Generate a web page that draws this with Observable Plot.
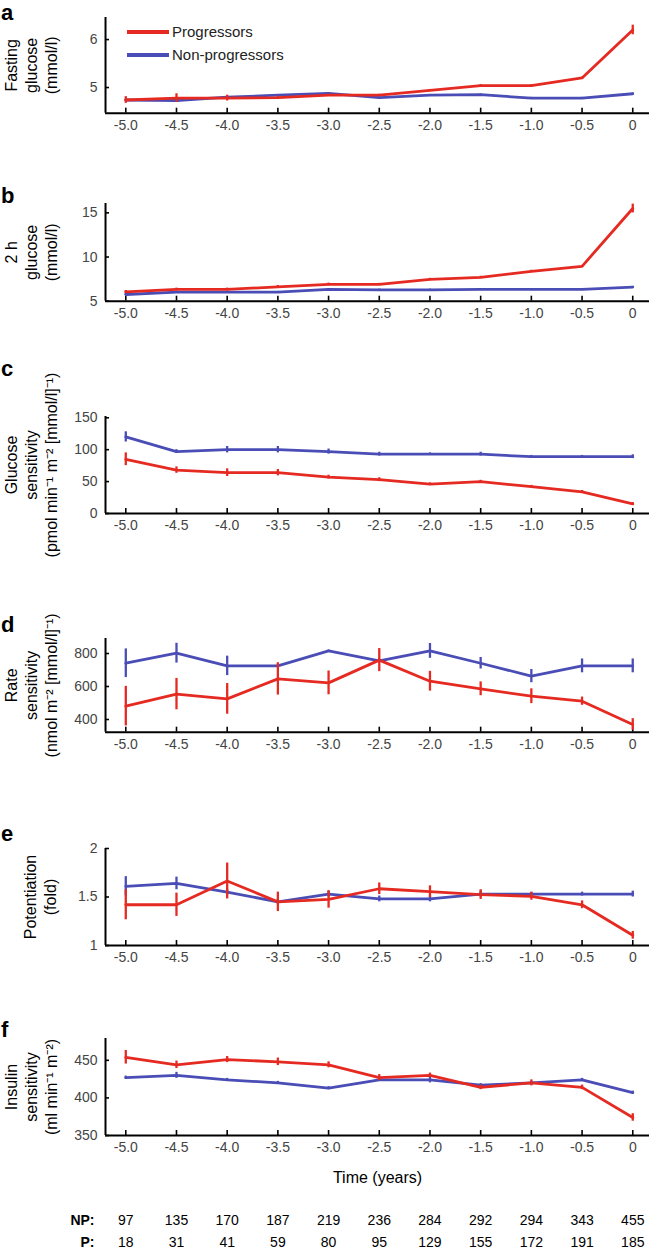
<!DOCTYPE html>
<html>
<head>
<meta charset="utf-8">
<script src="https://cdn.jsdelivr.net/npm/d3@7"></script>
<script src="https://cdn.jsdelivr.net/npm/@observablehq/plot@0.6"></script>
<style>
  html, body { margin: 0; padding: 0; background: #fff; }
  #wrap { position: relative; width: 649px; height: 1251px; overflow: hidden; font-family: "Liberation Sans", Arial, sans-serif; }
  .panel { position: absolute; left: 0; }
  .letter { position: absolute; left: 1px; font-weight: bold; font-size: 22px; line-height: 22px; color: #000; }
  .leg { position: absolute; font-size: 15px; color: #222; line-height: 1; }
  .legbar { position: absolute; height: 4px; }
</style>
</head>
<body>
<div id="wrap"></div>
<script>
// ---- data ----
const times = [-5.0, -4.5, -4.0, -3.5, -3.0, -2.5, -2.0, -1.5, -1.0, -0.5, 0];

// a: fasting glucose (mmol/l)
const fgP      = [4.74, 4.78, 4.78, 4.79, 4.84, 4.84, 4.94, 5.04, 5.04, 5.20, 6.20];
const fgPErr   = [0.07, 0.09, 0.06, 0.03, 0.02, 0.02, 0.02, 0.02, 0.02, 0.02, 0.10];
const fgNP     = [4.74, 4.73, 4.80, 4.84, 4.88, 4.79, 4.84, 4.85, 4.78, 4.78, 4.87];
const fgNPErr  = [0.015, 0.015, 0.015, 0.015, 0.015, 0.015, 0.015, 0.015, 0.015, 0.015, 0.015];

// b: 2 h glucose (mmol/l)
const tgP      = [6.06, 6.33, 6.33, 6.63, 6.90, 6.90, 7.47, 7.70, 8.38, 8.95, 15.49];
const tgPErr   = [0.15, 0.15, 0.15, 0.15, 0.15, 0.12, 0.12, 0.12, 0.12, 0.10, 0.50];
const tgNP     = [5.76, 6.03, 6.03, 6.03, 6.33, 6.29, 6.29, 6.33, 6.33, 6.33, 6.60];
const tgNPErr  = [0.08, 0.08, 0.08, 0.08, 0.08, 0.08, 0.08, 0.08, 0.08, 0.08, 0.08];

// c: glucose sensitivity
const gsP      = [85, 68, 64, 64, 57, 53, 46, 50, 42, 34, 15];
const gsPErr   = [10, 5, 6, 5, 3, 3, 2, 2, 2, 2, 2];
const gsNP     = [120, 97, 100, 100, 97, 93, 93, 93, 89, 89, 89];
const gsNPErr  = [8, 3, 5, 5, 4, 3, 2, 3, 2, 2, 3];

// d: rate sensitivity
const rsP      = [481, 554, 525, 646, 622, 760, 632, 586, 541, 511, 370];
const rsPErr   = [120, 95, 93, 98, 72, 70, 60, 42, 45, 25, 35];
const rsNP     = [741, 802, 725, 725, 816, 756, 816, 741, 663, 725, 725];
const rsNPErr  = [87, 60, 59, 10, 5, 10, 45, 35, 40, 42, 42];

// e: potentiation (fold)
const poP      = [1.42, 1.42, 1.665, 1.45, 1.475, 1.585, 1.555, 1.525, 1.507, 1.42, 1.105];
const poPErr   = [0.155, 0.12, 0.185, 0.10, 0.09, 0.06, 0.06, 0.05, 0.04, 0.04, 0.04];
const poNP     = [1.61, 1.64, 1.55, 1.45, 1.53, 1.48, 1.48, 1.53, 1.53, 1.53, 1.53];
const poNPErr  = [0.10, 0.065, 0.03, 0.03, 0.03, 0.03, 0.03, 0.03, 0.02, 0.02, 0.03];

// f: insulin sensitivity
const isP      = [454, 444, 451, 448, 444, 427, 430, 414, 420, 414, 374];
const isPErr   = [9, 5, 4, 5, 4, 4, 3, 3, 4, 3, 5];
const isNP     = [427, 430, 424, 420, 413, 424, 424, 417, 420, 424, 407];
const isNPErr  = [2, 4, 2, 2, 2, 2, 4, 2, 2, 2, 2];

// sample sizes
const countNP = [97, 135, 170, 187, 219, 236, 284, 292, 294, 343, 455];
const countP  = [18, 31, 41, 59, 80, 95, 129, 155, 172, 191, 185];

const seriesNames = ["Progressors", "Non-progressors"];
const seriesColors = ["#e52a22", "#4a4db5"];

const titles = [
  "Fasting\nglucose\n(mmol/l)",
  "2 h\nglucose\n(mmol/l)",
  "Glucose\nsensitivity\n(pmol min\u207B\u00B9 m\u207B\u00B2 [mmol/l]\u207B\u00B9)",
  "Rate\nsensitivity\n(nmol m\u207B\u00B2 [mmol/l]\u207B\u00B9)",
  "Potentiation\n(fold)",
  "Insulin\nsensitivity\n(ml min\u207B\u00B9 m\u207B\u00B2)"
];
const letters = ["a", "b", "c", "d", "e", "f"];
const yTicks = [[5, 6], [5, 10, 15], [0, 50, 100, 150], [400, 600, 800], [1, 1.5, 2], [350, 400, 450]];
const yDomains = [[4.465, 6.46], [5, 16.06], [0, 152], [323, 891], [1, 2], [350, 479]];

// ---- layout ----
const W = 649, ML = 105;
const xDomain = [-5.2, 0.165];
const frames = [[17, 112.7], [203, 300.7], [416, 513], [638, 731.7], [848, 945], [1038, 1135]];
const letterBase = [19, 203, 376, 632, 841, 1037];
const titleCenter = [30, 30, 30, 30, 39.5, 30];

const pData = [[fgP, fgPErr], [tgP, tgPErr], [gsP, gsPErr], [rsP, rsPErr], [poP, poPErr], [isP, isPErr]];
const npData = [[fgNP, fgNPErr], [tgNP, tgNPErr], [gsNP, gsNPErr], [rsNP, rsNPErr], [poNP, poNPErr], [isNP, isNPErr]];

const wrap = document.getElementById("wrap");
const xFmt = d => d === 0 ? "0" : d.toFixed(1);

for (let i = 0; i < 6; i++) {
  const [top, bottom] = frames[i];
  const last = i === 5;
  const mt = 20;
  const mb = last ? 1251 - bottom : 36;
  const H = bottom - top;
  const rows = [];
  times.forEach((t, j) => rows.push({t, v: npData[i][0][j], e: npData[i][1][j], g: "Non-progressors"}));
  times.forEach((t, j) => rows.push({t, v: pData[i][0][j], e: pData[i][1][j], g: "Progressors"}));
  const counts = times.map((t, j) => ({t, np: countNP[j], p: countP[j]}));

  const marks = [
    Plot.axisX(times, {tickSize: -5, tickPadding: 12, tickFormat: xFmt, stroke: "#000", strokeWidth: 1.6, fill: "#444", fontSize: 14, label: null}),
    Plot.axisY(yTicks[i], {tickSize: -4, tickPadding: 12, tickFormat: d => String(d), stroke: "#000", strokeWidth: 1.6, fill: "#444", fontSize: 14, label: null}),
    Plot.ruleX([xDomain[0]], {stroke: "#000", strokeWidth: 2}),
    Plot.ruleY([yDomains[i][0]], {stroke: "#000", strokeWidth: 2}),
    Plot.line(rows, {x: "t", y: "v", z: "g", stroke: "g", strokeWidth: 2.8}),
    Plot.ruleX(rows, {x: "t", y1: d => d.v - d.e, y2: d => d.v + d.e, stroke: "g", strokeWidth: 2.3}),
    Plot.text([titles[i]], {frameAnchor: "left", dx: titleCenter[i] - ML, rotate: -90, lineHeight: 1.25, fontSize: 16, fill: "#000", textAnchor: "middle", lineAnchor: "middle"})
  ];
  if (last) {
    marks.push(
      Plot.text(["Time (years)"], {frameAnchor: "bottom", dy: 42, fontSize: 16, fill: "#000", lineAnchor: "middle"}),
      Plot.text(counts, {x: "t", text: "np", frameAnchor: "bottom", dy: 85, fontSize: 14, fill: "#000", lineAnchor: "middle"}),
      Plot.text(counts, {x: "t", text: "p", frameAnchor: "bottom", dy: 107, fontSize: 14, fill: "#000", lineAnchor: "middle"}),
      Plot.text(["NP:"], {x: () => xDomain[0], frameAnchor: "bottom", dx: -11, dy: 85, fontSize: 14, fontWeight: "bold", fill: "#000", textAnchor: "end", lineAnchor: "middle"}),
      Plot.text(["P:"], {x: () => xDomain[0], frameAnchor: "bottom", dx: -11, dy: 107, fontSize: 14, fontWeight: "bold", fill: "#000", textAnchor: "end", lineAnchor: "middle"})
    );
  }

  const chart = Plot.plot({
    width: W,
    height: mt + H + mb,
    marginLeft: ML, marginRight: 0, marginTop: mt, marginBottom: mb,
    x: {domain: xDomain},
    y: {domain: yDomains[i]},
    color: {domain: seriesNames, range: seriesColors},
    style: {fontFamily: "'Liberation Sans', Arial, sans-serif", fontSize: "14px", color: "#444", background: "transparent", overflow: "visible"},
    marks
  });
  const div = document.createElement("div");
  div.className = "panel";
  div.style.top = (top - mt) + "px";
  div.appendChild(chart);
  wrap.appendChild(div);

  const L = document.createElement("div");
  L.className = "letter";
  L.textContent = letters[i];
  L.style.top = Math.max(2, letterBase[i] - 18) + "px";
  wrap.appendChild(L);
}

// legend (panel a)
const legendY = [32, 55];
seriesNames.forEach((name, k) => {
  const bar = document.createElement("div");
  bar.className = "legbar";
  bar.style.left = "127px";
  bar.style.width = "42px";
  bar.style.top = (legendY[k] - 2) + "px";
  bar.style.background = seriesColors[k];
  wrap.appendChild(bar);
  const t = document.createElement("div");
  t.className = "leg";
  t.textContent = name;
  t.style.left = "172px";
  t.style.top = (legendY[k] - 8) + "px";
  wrap.appendChild(t);
});
</script>
</body>
</html>
